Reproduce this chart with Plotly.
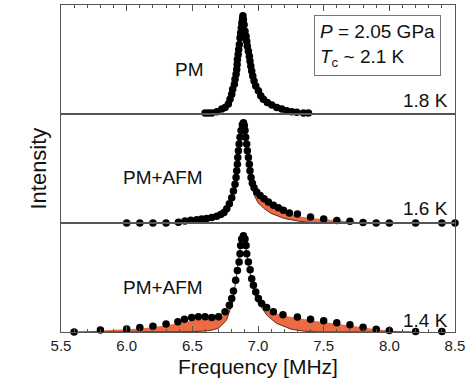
import plotly.graph_objects as go
from plotly.subplots import make_subplots

# ---- data: 1.8 K (PM) ----
freq_18 = [6.597, 6.622, 6.648, 6.686, 6.724, 6.749, 6.774, 6.787, 6.800, 6.807, 6.820, 6.825, 6.833,
           6.838, 6.841, 6.843, 6.849, 6.853, 6.858, 6.863, 6.868, 6.873, 6.877, 6.882, 6.885, 6.889,
           6.894, 6.901, 6.909, 6.914, 6.919, 6.927, 6.934, 6.939, 6.945, 6.952, 6.960, 6.970, 6.983,
           7.003, 7.021, 7.041, 7.071, 7.105, 7.143, 7.181, 7.219, 7.257, 7.295, 7.346, 7.384]
int_18 = [0.0, 0.0, 0.0, 0.013, 0.04, 0.057, 0.091, 0.141, 0.192, 0.242, 0.293, 0.343, 0.394,
          0.444, 0.495, 0.545, 0.596, 0.646, 0.697, 0.764, 0.815, 0.865, 0.916, 0.96, 0.99, 0.95,
          0.899, 0.832, 0.781, 0.731, 0.68, 0.63, 0.579, 0.529, 0.478, 0.428, 0.377, 0.327, 0.276,
          0.226, 0.175, 0.141, 0.108, 0.081, 0.057, 0.04, 0.024, 0.013, 0.007, 0.0, 0.0]

# ---- data: 1.6 K (PM+AFM) ----
freq_16 = [6.0, 6.1, 6.2, 6.3, 6.394, 6.444, 6.488, 6.533, 6.571, 6.609, 6.648, 6.686, 6.716, 6.741,
           6.762, 6.782, 6.800, 6.813, 6.825, 6.833, 6.838, 6.843, 6.846, 6.851, 6.856, 6.863, 6.871,
           6.881, 6.889, 6.896, 6.901, 6.906, 6.914, 6.919, 6.927, 6.934, 6.939, 6.947, 6.957, 6.970,
           6.990, 7.016, 7.046, 7.079, 7.117, 7.155, 7.193, 7.239, 7.3, 7.4, 7.5, 7.6, 7.7, 7.8, 7.9,
           8.0, 8.2, 8.4, 8.5]
int_16 = [0.0, 0.0, 0.0, 0.0, 0.008, 0.02, 0.027, 0.033, 0.04, 0.045, 0.055, 0.068, 0.085, 0.105,
          0.14, 0.19, 0.25, 0.317, 0.383, 0.45, 0.517, 0.583, 0.65, 0.717, 0.783, 0.85, 0.917,
          0.973, 0.993, 0.967, 0.917, 0.85, 0.783, 0.717, 0.65, 0.583, 0.517, 0.45, 0.393, 0.35,
          0.307, 0.273, 0.24, 0.207, 0.177, 0.15, 0.127, 0.1, 0.088, 0.06, 0.04, 0.026, 0.018, 0.006, 0.0,
          0.0, 0.0, 0.0, 0.0]
curve_freq_16 = [6.0, 6.3, 6.4, 6.5, 6.6, 6.7, 6.75, 6.8, 6.83, 6.86, 6.885, 6.91, 6.94, 6.97, 7.0,
                 7.05, 7.1, 7.2, 7.3, 7.4, 7.5, 7.6, 7.7, 7.8, 7.9]
pm_16 = [0, 0, 0.004, 0.01, 0.02, 0.05, 0.09, 0.2, 0.45, 0.8, 1.0, 0.78, 0.45, 0.28, 0.2,
         0.14, 0.095, 0.045, 0.02, 0.005, 0, 0, 0, 0, 0]
total_16 = [0, 0.003, 0.012, 0.022, 0.035, 0.065, 0.1, 0.21, 0.45, 0.8, 1.0, 0.78, 0.46, 0.32, 0.26,
            0.21, 0.165, 0.11, 0.068, 0.05, 0.038, 0.026, 0.013, 0.004, 0]

# ---- data: 1.4 K (PM+AFM) ----
freq_14 = [5.6, 5.8, 6.0, 6.1, 6.2, 6.3, 6.39, 6.44, 6.495, 6.546, 6.597, 6.648, 6.70, 6.749, 6.782,
           6.800, 6.813, 6.830, 6.843, 6.856, 6.863, 6.868, 6.876, 6.889, 6.901, 6.909, 6.914, 6.927,
           6.940, 6.952, 6.965, 6.983, 7.003, 7.028, 7.066, 7.117, 7.19, 7.3, 7.4, 7.5, 7.6, 7.7,
           7.8, 7.9, 8.0, 8.2, 8.4]
int_14 = [0.0, 0.02, 0.03, 0.045, 0.058, 0.082, 0.105, 0.13, 0.148, 0.156, 0.156, 0.15, 0.156, 0.207,
          0.276, 0.344, 0.422, 0.531, 0.633, 0.718, 0.803, 0.888, 0.956, 0.99, 0.956, 0.888, 0.803,
          0.718, 0.639, 0.548, 0.48, 0.412, 0.344, 0.293, 0.252, 0.207, 0.178, 0.155, 0.13, 0.115,
          0.095, 0.075, 0.048, 0.027, 0.016, 0.005, 0.005]
curve_freq_14 = [5.6, 5.7, 5.8, 5.9, 6.0, 6.1, 6.2, 6.3, 6.4, 6.5, 6.6, 6.65, 6.7, 6.76, 6.81, 6.84,
                 6.87, 6.89, 6.91, 6.95, 6.99, 7.04, 7.07, 7.14, 7.19, 7.25, 7.34, 7.45, 7.6, 7.7,
                 7.8, 7.9, 8.0, 8.1, 8.2]
pm_14 = [0, 0, 0, 0, 0, 0, 0, 0, 0, 0.003, 0.01, 0.02, 0.04, 0.12, 0.32, 0.6, 0.92, 1.0, 0.85,
         0.53, 0.32, 0.22, 0.17, 0.09, 0.065, 0.03, 0.01, 0, 0, 0, 0, 0, 0, 0, 0]
total_14 = [0, 0.008, 0.014, 0.02, 0.026, 0.036, 0.05, 0.068, 0.09, 0.12, 0.135, 0.14, 0.145, 0.19,
            0.34, 0.6, 0.92, 1.0, 0.86, 0.56, 0.38, 0.27, 0.23, 0.19, 0.17, 0.155, 0.13, 0.11, 0.085,
            0.065, 0.045, 0.028, 0.015, 0.006, 0]

panel_labels = ["PM", "PM+AFM", "PM+AFM"]
temp_labels = ["1.8 K", "1.6 K", "1.4 K"]
x_ticks = [5.5, 6.0, 6.5, 7.0, 7.5, 8.0, 8.5]

FONT = "Liberation Sans, Arial, Helvetica, sans-serif"
FRAME = "#555555"
ORANGE = "#EC6B43"
PMLINE = "#5a2a1c"

fig = make_subplots(rows=3, cols=1, shared_xaxes=True, vertical_spacing=0)

# curves with orange fill between PM component and total
for row, (cf, tot, pm) in zip([2, 3], [(curve_freq_16, total_16, pm_16), (curve_freq_14, total_14, pm_14)]):
    fig.add_trace(go.Scatter(x=cf, y=tot, mode="lines", line=dict(width=0, color=ORANGE),
                             showlegend=False, hoverinfo="skip"), row=row, col=1)
    fig.add_trace(go.Scatter(x=cf, y=pm, mode="lines", line=dict(width=1, color=PMLINE),
                             fill="tonexty", fillcolor=ORANGE, showlegend=False, hoverinfo="skip"),
                  row=row, col=1)

for row, (fx, iy) in enumerate([(freq_18, int_18), (freq_16, int_16), (freq_14, int_14)], start=1):
    fig.add_trace(go.Scatter(x=fx, y=iy, mode="markers", cliponaxis=False,
                             marker=dict(size=7.5, color="black"), showlegend=False), row=row, col=1)

yranges = [[-0.01, 1.10], [0.0, 1.08], [0.0, 1.12]]
for row in range(1, 4):
    fig.update_yaxes(range=yranges[row - 1], showticklabels=False, ticks="", showgrid=False,
                     zeroline=False, showline=True, mirror=True, linecolor=FRAME, linewidth=1,
                     automargin=False, row=row, col=1)

common_x = dict(range=[5.5, 8.5], showgrid=False, zeroline=False, showline=True, mirror=True,
                linecolor=FRAME, linewidth=1, tickvals=x_ticks, automargin=False)
fig.update_xaxes(**common_x)
fig.update_xaxes(side="top", ticks="inside", ticklen=6, tickcolor=FRAME, showticklabels=False,
                 minor=dict(dtick=0.1, tick0=5.5, ticks="inside", ticklen=3, tickcolor=FRAME),
                 row=1, col=1)
fig.update_xaxes(ticks="", showticklabels=False, row=2, col=1)
fig.update_xaxes(ticks="inside", ticklen=6, tickcolor=FRAME, showticklabels=True,
                 ticktext=[f"{v:.1f}" for v in x_ticks],
                 tickfont=dict(family=FONT, size=15, color="#222"),
                 minor=dict(dtick=0.1, tick0=5.5, ticks="inside", ticklen=3, tickcolor=FRAME),
                 row=3, col=1)

axis_refs = [("x", "y"), ("x2", "y2"), ("x3", "y3")]
label_pos = [(6.48, 0.44), (6.28, 0.45), (6.28, 0.46)]
temp_pos = [0.13, 0.145, 0.12]
for i in range(3):
    xr, yr = axis_refs[i]
    fig.add_annotation(x=label_pos[i][0], y=label_pos[i][1], xref=xr, yref=yr, text=panel_labels[i],
                       showarrow=False, font=dict(family=FONT, size=19, color="#111"))
    fig.add_annotation(x=8.46, y=temp_pos[i], xref=xr, yref=yr, text=temp_labels[i], xanchor="right",
                       showarrow=False, font=dict(family=FONT, size=19, color="#111"))

fig.add_annotation(x=7.43, y=1.0, xref="x", yref="y", xanchor="left", yanchor="top",
                   text="<i>P</i> = 2.05 GPa<br><i>T</i><sub>c</sub> ~ 2.1 K", align="left",
                   showarrow=False, bordercolor="#777", borderwidth=1, borderpad=5,
                   font=dict(family=FONT, size=19, color="#111"))

fig.add_annotation(x=-0.095, y=0.5, xref="paper", yref="paper", text="Intensity", textangle=-90,
                   showarrow=False, font=dict(family=FONT, size=22, color="#111"))
fig.add_annotation(x=0.5, y=-0.105, xref="paper", yref="paper", text="Frequency [MHz]",
                   yanchor="middle", showarrow=False, font=dict(family=FONT, size=21, color="#111"))

fig.update_layout(width=467, height=384, margin=dict(l=61, r=12, t=5, b=52, autoexpand=False),
                  plot_bgcolor="white", paper_bgcolor="white")

fig.write_html("out.html", config={"displayModeBar": False},
               post_script="document.body.style.margin='0px';")
